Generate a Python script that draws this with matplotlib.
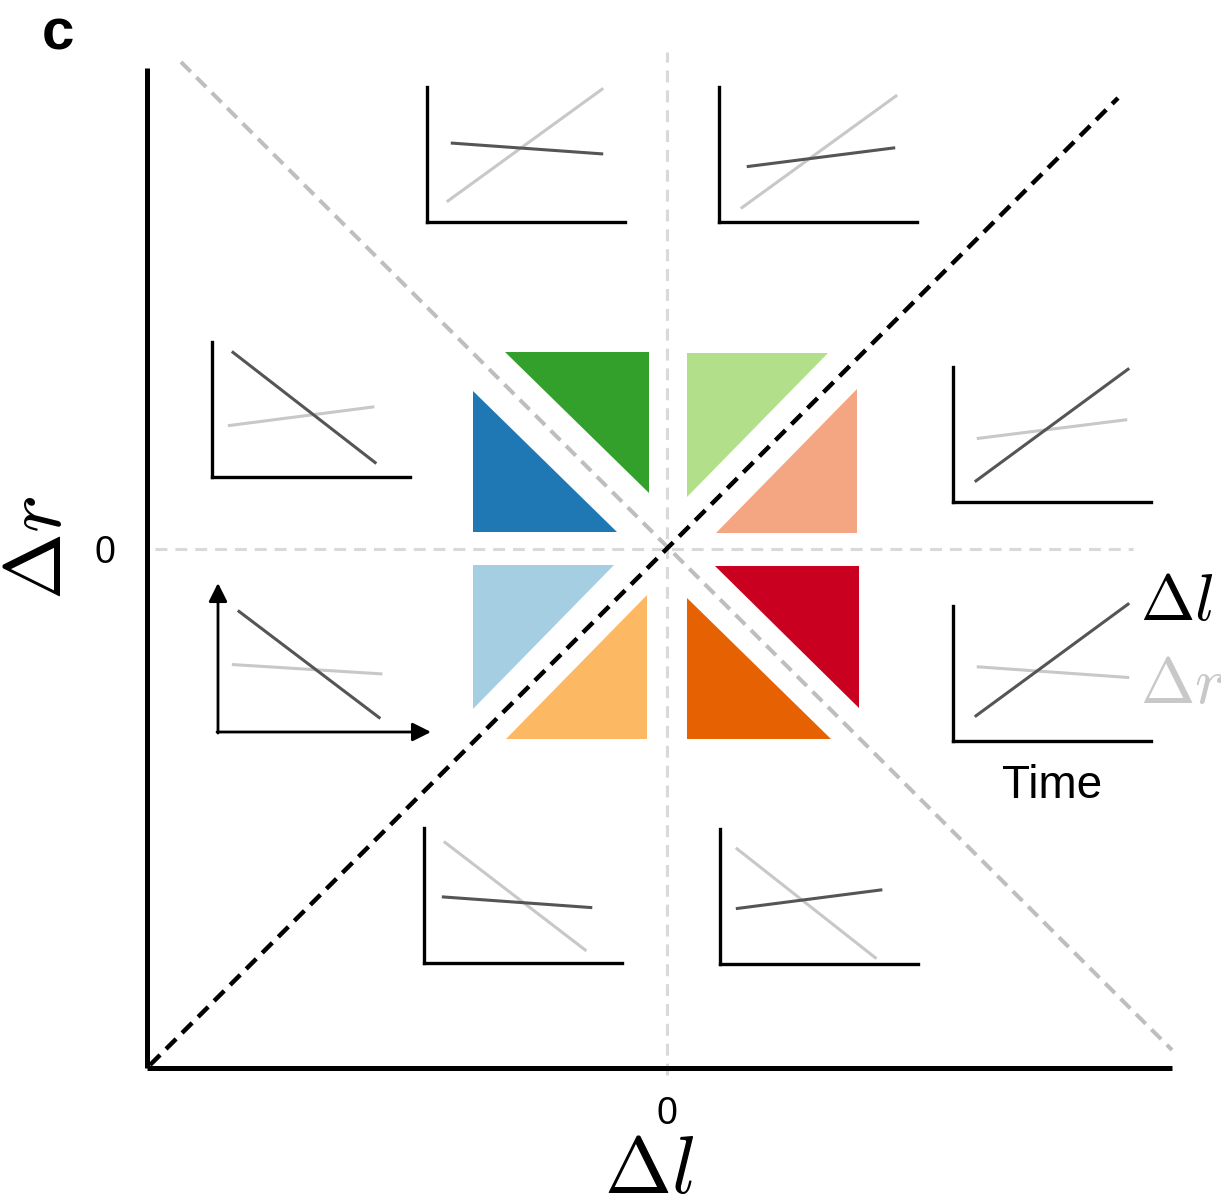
import numpy as np
import matplotlib
matplotlib.use("Agg")
import matplotlib.pyplot as plt
from matplotlib.patches import Polygon

plt.rcParams['mathtext.fontset'] = 'cm'
plt.rcParams['font.family'] = ['Liberation Sans', 'DejaVu Sans']

W, H = 1221, 1199

# sector triangles around the origin (Δl, Δr units)
sector_colors = ['#33a02c', '#b2df8a', '#1f78b4', '#f4a582',
                 '#a6cee3', '#ca0020', '#fdb863', '#e66101']
sector_dl = [[-162, -18, -18], [20, 161, 20], [-194, -194, -50], [190, 190, 49],
             [-194, -53, -194], [48, 192, 192], [-161, -20, -20], [20, 20, 164]]
sector_dr = [[197, 197, 56], [196, 196, 52], [158, 17, 17], [160, 16, 16],
             [-16, -16, -160], [-17, -17, -159], [-190, -190, -46], [-49, -190, -190]]

# guide lines
diag_dl = [-517, 451]
diag_dr = [-516, 451]
anti_dl = [-486, 505]
anti_dr = [487, -501]

# small trend panels: Δl (dark) and Δr (light) over time
panel_names = ['top_l', 'top_r', 'mid_l', 'mid_r', 'low_l', 'low_r', 'bot_l', 'bot_r']
dl_t = [[0.12, 0.89], [0.14, 0.89], [0.10, 0.83], [0.11, 0.89],
        [0.10, 0.82], [0.11, 0.89], [0.09, 0.85], [0.08, 0.82]]
dl_vals = [[0.585, 0.504], [0.41, 0.55], [0.93, 0.10], [0.15, 0.99],
           [0.90, 0.10], [0.18, 1.02], [0.49, 0.41], [0.41, 0.55]]
dr_t = [[0.10, 0.89], [0.11, 0.90], [0.08, 0.82], [0.12, 0.88],
        [0.07, 0.83], [0.12, 0.89], [0.10, 0.82], [0.08, 0.79]]
dr_vals = [[0.15, 0.99], [0.10, 0.94], [0.38, 0.52], [0.47, 0.61],
           [0.50, 0.43], [0.55, 0.47], [0.90, 0.09], [0.86, 0.04]]
# lower-left corner of each panel in pixels
panel_corner = [(427, 222), (719, 222), (212, 477), (953, 502),
                (218, 732), (953, 741), (424, 963), (720, 964)]
panel_w, panel_h = 198, 135

fig = plt.figure(figsize=(W / 100, H / 100), dpi=100)
ax = fig.add_axes([147 / W, (H - 1068) / H, (1172 - 147) / W, (1068 - 68) / H])
ax.set_xlim(-520, 505)
ax.set_ylim(-519, 481)

for s in ['top', 'right']:
    ax.spines[s].set_visible(False)
for s in ['left', 'bottom']:
    ax.spines[s].set_linewidth(3.6)
    ax.spines[s].set_capstyle('butt')

ax.set_xticks([0])
ax.set_xticklabels(['0'])
ax.set_yticks([0])
ax.set_yticklabels(['0'])
ax.tick_params(length=0, labelsize=27)
ax.tick_params(axis='x', pad=20)
ax.tick_params(axis='y', pad=23)

ax.set_xlabel(r'$\Delta l$', fontsize=58)
ax.xaxis.set_label_coords(0.49, -0.066)
ax.set_ylabel(r'$\Delta r$', fontsize=58)
ax.yaxis.set_label_coords(-0.067, 0.52)

# zero lines
ax.plot([0, 0], [-526, 497], color='#d9d9d9', lw=2.2, ls=(0, (3.9, 2.6)), clip_on=False, zorder=1)
ax.plot([-512, 466], [0, 0], color='#d9d9d9', lw=2.2, ls=(0, (3.9, 2.6)), clip_on=False, zorder=1)

for c, xs, ys in zip(sector_colors, sector_dl, sector_dr):
    ax.add_patch(Polygon(np.column_stack([xs, ys]), closed=True, fc=c, ec='none', zorder=2))

ax.plot(anti_dl, anti_dr, color='#bebebe', lw=2.9, ls=(0, (3.4, 2.0)), clip_on=False, zorder=3)
ax.plot(diag_dl, diag_dr, color='black', lw=3.2, ls=(0, (3.2, 1.9)), clip_on=False, zorder=4)

for i, name in enumerate(panel_names):
    x0, y0 = panel_corner[i]
    pax = fig.add_axes([x0 / W, (H - y0) / H, panel_w / W, panel_h / H])
    pax.set_xlim(0, 1)
    pax.set_ylim(0, 1)
    pax.patch.set_visible(False)
    pax.set_xticks([])
    pax.set_yticks([])
    for s in ['top', 'right']:
        pax.spines[s].set_visible(False)
    pax.plot(dr_t[i], dr_vals[i], color='#c8c8c8', lw=2.2, solid_capstyle='butt', clip_on=False)
    pax.plot(dl_t[i], dl_vals[i], color='#555555', lw=2.2, solid_capstyle='butt', clip_on=False)
    if name == 'low_l':
        pax.spines['left'].set_visible(False)
        pax.spines['bottom'].set_visible(False)
        arrow = dict(arrowstyle='-|>', lw=2.0, color='black', mutation_scale=28,
                     shrinkA=0, shrinkB=0)
        pax.annotate('', xy=(0, 149 / panel_h), xytext=(0, -0.008), arrowprops=arrow,
                     annotation_clip=False)
        pax.annotate('', xy=(213 / panel_w, 0), xytext=(-0.005, 0), arrowprops=arrow,
                     annotation_clip=False)
    else:
        for s in ['left', 'bottom']:
            pax.spines[s].set_linewidth(2.4)
            pax.spines[s].set_capstyle('projecting')
    if name == 'low_r':
        pax.text(0.945, 1.02, r'$\Delta l$', fontsize=47, color='black', ha='left', va='center')
        pax.text(0.945, 0.41, r'$\Delta r$', fontsize=47, color='#c8c8c8', ha='left', va='center')
        pax.text(0.5, -0.33, 'Time', fontsize=33, ha='center', va='center')

fig.text(58 / W, 1 - 35 / H, 'c', fontsize=42, fontweight='bold', ha='center', va='center')

fig.savefig('out.png', dpi=100)
